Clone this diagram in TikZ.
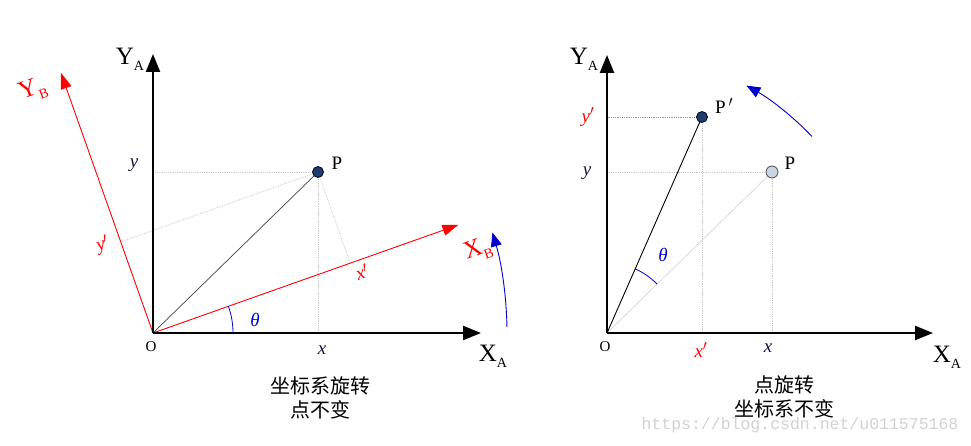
\documentclass[tikz,border=0pt]{standalone}
\usepackage{fontspec}
\setmainfont{Liberation Serif}
\newfontfamily\cjk{Noto Sans CJK SC}
\newfontfamily\wmfont{Liberation Mono}
\usetikzlibrary{arrows.meta,calc}
\definecolor{myred}{RGB}{255,0,0}
\definecolor{myblue}{RGB}{0,0,204}
\definecolor{darkdot}{RGB}{31,61,107}
\definecolor{lightdot}{RGB}{200,211,227}
\definecolor{guide}{RGB}{200,200,200}
\definecolor{guidedark}{RGB}{150,150,150}
\definecolor{labelblue}{RGB}{20,20,60}
\newcommand{\axl}[2]{\fontsize{25}{25}\selectfont #1\raisebox{-6pt}{\fontsize{14}{14}\selectfont #2}}
\begin{document}
\begin{tikzpicture}[x=1pt,y=1pt,
  axis/.style={line width=2.4pt,-{Triangle[length=18pt,width=14pt]}},
  raxis/.style={myred,line width=0.9pt,-{Triangle[length=16pt,width=11pt]}},
  guideline/.style={guide,densely dotted,line width=0.8pt},
  rotarrow/.style={myblue,line width=0.9pt,-{Triangle[length=14pt,width=11pt]}},
  anglearc/.style={myblue,line width=0.8pt},
  dotdark/.style={circle,fill=darkdot,draw=black!85!blue,line width=0.8pt,minimum size=11pt,inner sep=0pt},
  dotlight/.style={circle,fill=lightdot,draw=black!70,line width=0.8pt,minimum size=12pt,inner sep=0pt},
  lbl/.style={inner sep=0pt,font=\fontsize{19}{19}\selectfont},
  vlbl/.style={inner sep=0pt,font=\fontsize{19}{19}\selectfont\itshape},
  axlbl/.style={inner sep=0pt},
  cjktxt/.style={inner sep=0pt,font=\cjk\fontsize{20}{24}\selectfont,align=center}]
\useasboundingbox (0,0) rectangle (971,445);

% ---------------- left diagram ----------------
\coordinate (O1) at (153,112);
\coordinate (YA1) at (153,391);
\coordinate (XA1) at (481,112);
\coordinate (XB) at ($(O1)+(19.5:324)$);
\coordinate (YB) at ($(O1)+(109.5:276)$);
\coordinate (P1c) at (318,273);
\coordinate (Fx) at ($(O1)!(P1c)!(XB)$);
\coordinate (Fy) at ($(O1)!(P1c)!(YB)$);
\coordinate (Hy1) at (153,273);
\coordinate (Vx1) at (318,112);

\draw[guideline] (P1c) -- (Hy1);
\draw[guideline] (P1c) -- (Vx1);
\draw[guideline] (P1c) -- (Fx);
\draw[guideline] (P1c) -- (Fy);

\draw[black!75,line width=0.7pt] (O1) -- (P1c);
\draw[raxis] (O1) -- (XB);
\draw[raxis] (O1) -- (YB);
\draw[axis] (O1) -- (YA1);
\draw[axis] (O1) -- (XA1);
\node[dotdark] (P1) at (P1c) {};

\draw[anglearc] ($(O1)+(80,0)$) arc[start angle=0,end angle=19.5,radius=80];
\draw[rotarrow] ($(O1)+(1:354)$) arc[start angle=1,end angle=16.5,radius=354];

\node[axlbl] (lYA1) at (130,386) {\axl{Y}{A}};
\node[axlbl] (lXA1) at (493,89) {\axl{X}{A}};
\node[axlbl,text=myred,rotate=19.5] (lXB) at (478,195) {\axl{X}{B}};
\node[axlbl,text=myred,rotate=19.5] (lYB) at (33,355) {\axl{Y}{B}};
\node[lbl] (lP1) at (337,282) {P};
\node[vlbl,text=labelblue] (ly1) at (134,280) {y};
\node[vlbl,text=labelblue] (lx1) at (322,95) {x};
\node[lbl,font=\fontsize{15}{15}\selectfont] (lO1) at (151,98) {O};
\node[vlbl,text=myblue] (lth1) at (255,125) {θ};
\node[vlbl,text=myred,rotate=19.5] (lxp1) at (362,173) {x$'$};
\node[vlbl,text=myred,rotate=19.5] (lyp1) at (103,200) {y$'$};

\node[cjktxt] (t1) at (320,47) {坐标系旋转\\点不变};

% ---------------- right diagram ----------------
\coordinate (O2) at (607,112);
\coordinate (YA2) at (607,390);
\coordinate (XA2) at (933,112);
\coordinate (P2c) at (772,273);
\coordinate (Ppc) at (702,328);

\draw[guideline] (P2c) -- (607,273);
\draw[guideline] (P2c) -- (772,112);
\draw[guideline] (Ppc) -- (702,112);
\draw[guidedark,densely dotted,line width=0.8pt] (Ppc) -- (607,328);

\draw[black!15,line width=0.8pt] (O2) -- (P2c);
\draw[black,line width=0.9pt] (O2) -- (Ppc);
\draw[axis] (O2) -- (YA2);
\draw[axis] (O2) -- (XA2);
\node[dotlight] (P2) at (P2c) {};
\node[dotdark] (Pp) at (Ppc) {};

\draw[anglearc] ($(O2)+(44.3:70)$) arc[start angle=44.3,end angle=66.3,radius=70];
\draw[rotarrow] ($(O2)+(43.8:284)$) arc[start angle=43.8,end angle=60.6,radius=284];

\node[axlbl] (lYA2) at (584,386) {\axl{Y}{A}};
\node[axlbl] (lXA2) at (947,88) {\axl{X}{A}};
\node[lbl] (lP2) at (790,282) {P};
\node[lbl] (lPp) at (724,339) {P$\,'$};
\node[vlbl,text=myred] (lyp2) at (588,328) {y$'$};
\node[vlbl,text=labelblue] (ly2) at (587,272) {y};
\node[vlbl,text=myred] (lxp2) at (701,95) {x$'$};
\node[vlbl,text=labelblue] (lx2) at (768,97) {x};
\node[lbl,font=\fontsize{15}{15}\selectfont] (lO2) at (605,98) {O};
\node[vlbl,text=myblue] (lth2) at (663,190) {θ};

\node[cjktxt] (t2) at (784,48) {点旋转\\坐标系不变};

\node[inner sep=0pt,font=\wmfont\fontsize{16.5}{16.5}\selectfont,text=black!18] (wm) at (800,20) {https://blog.csdn.net/u011575168};
\end{tikzpicture}
\end{document}
